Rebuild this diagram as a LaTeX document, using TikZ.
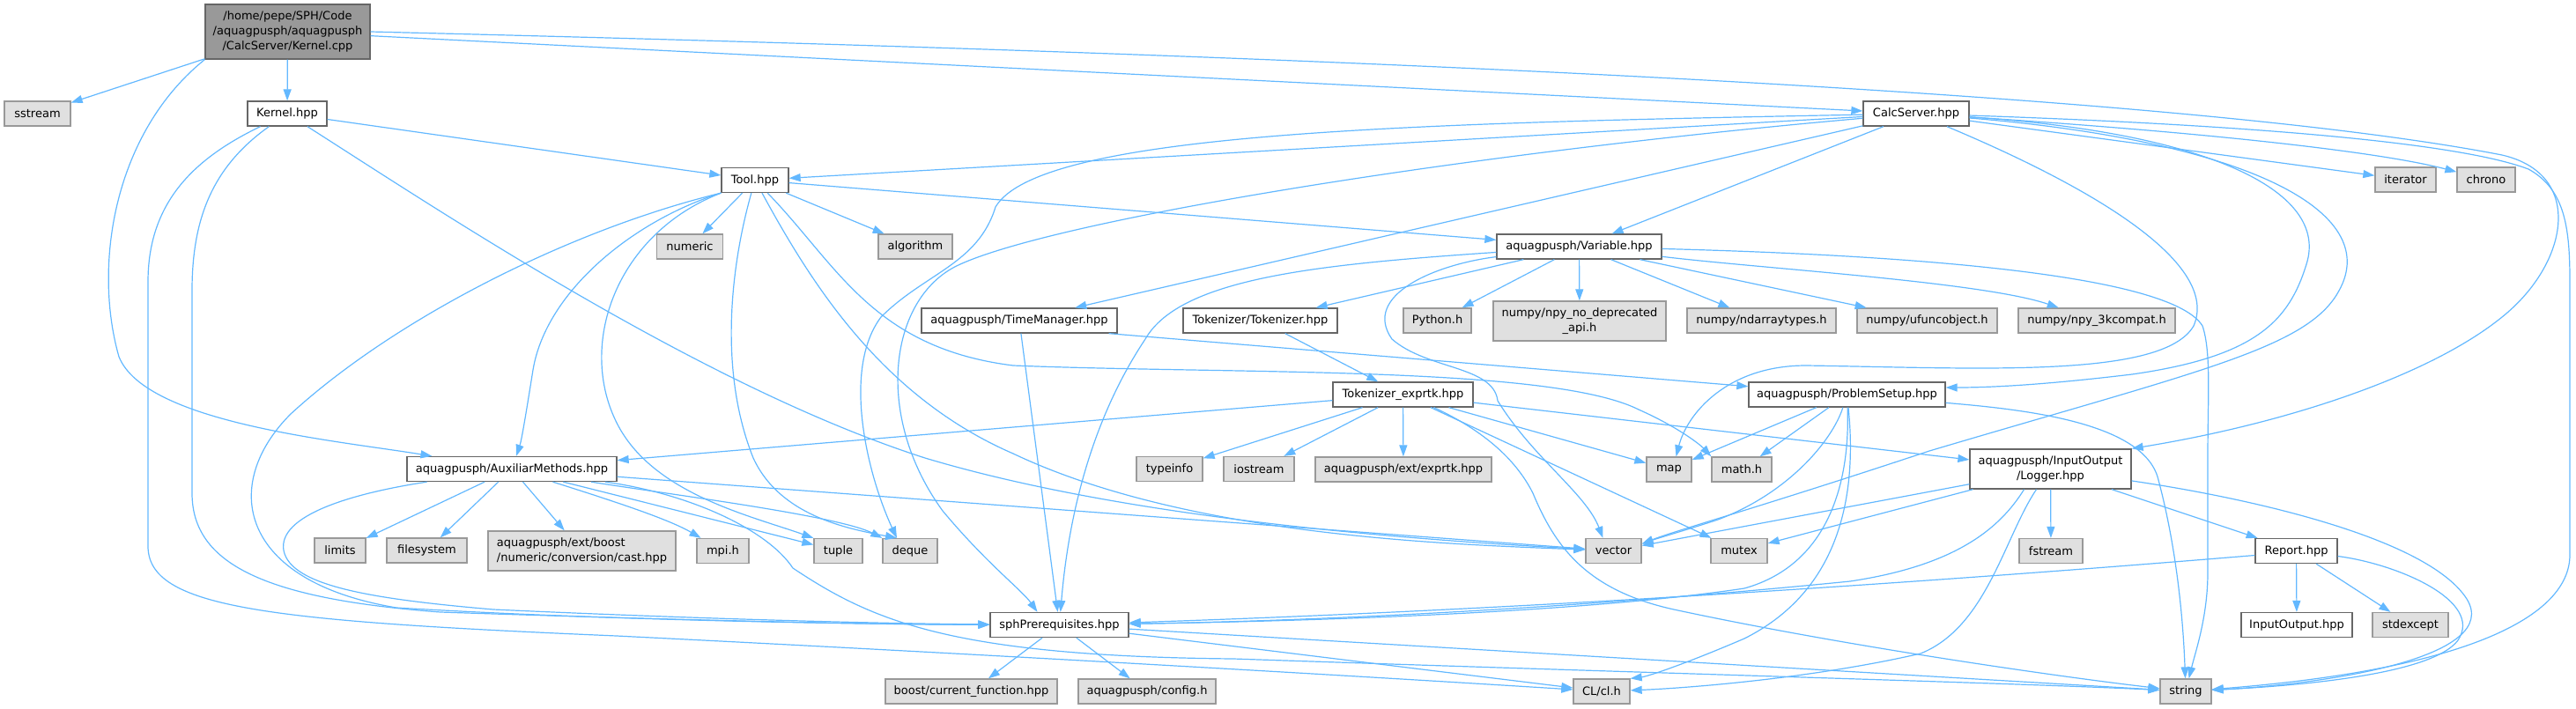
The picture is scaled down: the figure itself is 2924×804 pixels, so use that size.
\documentclass[tikz,border=0pt]{standalone}
\usepackage{fontspec}
\setmainfont{DejaVu Sans}
\usetikzlibrary{arrows.meta}
\definecolor{edgeblue}{HTML}{63B8FF}
\definecolor{bordw}{HTML}{666666}
\definecolor{bordg}{HTML}{999999}
\definecolor{extfill}{HTML}{E0E0E0}
\definecolor{rootfill}{HTML}{999999}
\begin{document}
\begin{tikzpicture}[x=1pt,y=-1pt,
  nd/.style={rectangle, inner sep=0pt, minimum height=28pt, line width=1.3pt,
    font=\fontsize{13pt}{17pt}\selectfont, align=center, text=black},
  hdr/.style={nd, draw=bordw, fill=white},
  ext/.style={nd, draw=bordg, fill=extfill},
  root/.style={nd, draw=bordw, fill=rootfill},
  conn/.style={draw=edgeblue, line width=1.2pt, -{Triangle[length=13pt,width=9pt]}},
]
\useasboundingbox (0,0) rectangle (2924,804);

% ---------- nodes ----------
\node[root, minimum width=187pt, minimum height=62pt] (kcpp) at (326.5,36) {/home/pepe/SPH/Code\\/aquagpusph/aquagpusph\\/CalcServer/Kernel.cpp};
\node[ext, minimum width=75pt] (sstream) at (42.5,129) {sstream};
\node[hdr, minimum width=90pt] (khpp) at (326,129) {Kernel.hpp};
\node[hdr, minimum width=76pt] (tool) at (857,204.5) {Tool.hpp};
\node[hdr, minimum width=120pt] (calc) at (2175,129) {CalcServer.hpp};
\node[ext, minimum width=75pt] (numeric) at (783,280) {numeric};
\node[ext, minimum width=84pt] (algorithm) at (1039,280) {algorithm};
\node[hdr, minimum width=187pt] (variable) at (1792.5,280) {aquagpusph/Variable.hpp};
\node[ext, minimum width=69pt] (iterator) at (2730.5,204) {iterator};
\node[ext, minimum width=66pt] (chrono) at (2822,204) {chrono};
\node[hdr, minimum width=222pt] (timemgr) at (1157,364) {aquagpusph/TimeManager.hpp};
\node[hdr, minimum width=175pt] (tokenizer) at (1430.5,364) {Tokenizer/Tokenizer.hpp};
\node[ext, minimum width=77pt] (python) at (1631.5,364) {Python.h};
\node[ext, minimum width=196pt, minimum height=45pt] (npydep) at (1793,364.5) {numpy/npy\_no\_deprecated\\\_api.h};
\node[ext, minimum width=169pt] (ndarray) at (1999.5,364) {numpy/ndarraytypes.h};
\node[ext, minimum width=159pt] (ufunc) at (2187.5,364) {numpy/ufuncobject.h};
\node[ext, minimum width=178pt] (npy3k) at (2380,364) {numpy/npy\_3kcompat.h};
\node[hdr, minimum width=159pt] (tokexp) at (1592.5,448) {Tokenizer\_exprtk.hpp};
\node[hdr, minimum width=223pt] (problem) at (2096.5,448) {aquagpusph/ProblemSetup.hpp};
\node[ext, minimum width=75pt] (typeinfo) at (1327.5,532.5) {typeinfo};
\node[ext, minimum width=80pt] (iostream) at (1429,532.5) {iostream};
\node[ext, minimum width=200pt] (exprtk) at (1593,533) {aquagpusph/ext/exprtk.hpp};
\node[ext, minimum width=51pt] (map) at (1894.5,533) {map};
\node[ext, minimum width=68pt] (mathh) at (1977,533) {math.h};
\node[hdr, minimum width=183pt, minimum height=45pt] (logger) at (2327.5,532.5) {aquagpusph/InputOutput\\/Logger.hpp};
\node[hdr, minimum width=238pt] (aux) at (581,532.5) {aquagpusph/AuxiliarMethods.hpp};
\node[ext, minimum width=58pt] (limits) at (386,625) {limits};
\node[ext, minimum width=91pt] (filesystem) at (484.5,625) {filesystem};
\node[ext, minimum width=213pt, minimum height=45pt, align=left] (boostcast) at (660.5,625.5) {aquagpusph/ext/boost\\/numeric/conversion/cast.hpp};
\node[ext, minimum width=59pt] (mpi) at (820.5,625.5) {mpi.h};
\node[ext, minimum width=55pt] (tuple) at (951.5,625.5) {tuple};
\node[ext, minimum width=62pt] (deque) at (1033,625.5) {deque};
\node[ext, minimum width=63pt] (vector) at (1831.5,625.5) {vector};
\node[ext, minimum width=64pt] (mutex) at (1974,625.5) {mutex};
\node[ext, minimum width=72pt] (fstream) at (2328,625.5) {fstream};
\node[hdr, minimum width=93pt] (report) at (2606.5,625.5) {Report.hpp};
\node[hdr, minimum width=157pt] (sph) at (1202.5,709.5) {sphPrerequisites.hpp};
\node[hdr, minimum width=126pt] (inout) at (2607,709.5) {InputOutput.hpp};
\node[ext, minimum width=86pt] (stdexcept) at (2736,709.5) {stdexcept};
\node[ext, minimum width=195pt] (boostcf) at (1102.5,785) {boost/current\_function.hpp};
\node[ext, minimum width=156pt] (config) at (1302,785) {aquagpusph/config.h};
\node[ext, minimum width=64pt] (cl) at (1818,785) {CL/cl.h};
\node[ext, minimum width=58pt] (string) at (2481,785) {string};

% ---------- Kernel.cpp ----------
\draw[conn] (kcpp) -- (sstream);
\draw[conn] (kcpp) -- (khpp);
\draw[conn] (kcpp.south west) .. controls (130,150) and (105,300) .. (135,405) .. controls (165,480) and (380,500) .. (aux);
\draw[conn] (kcpp) -- (calc);
\draw[conn] (kcpp.east) .. controls (1400,60) and (2450,100) .. (2840,176) .. controls (2935,198) and (2915,300) .. (2840,360) .. controls (2760,425) and (2600,480) .. (logger.north east);

% ---------- Kernel.hpp ----------
\draw[conn] (khpp) -- (tool);
\draw[conn] (khpp) .. controls (500,240) and (800,440) .. (1050,520) .. controls (1300,595) and (1650,615) .. (vector);
\draw[conn] (khpp) .. controls (240,190) and (218,250) .. (218,330) -- (218,560) .. controls (218,640) and (300,680) .. (500,695) .. controls (800,705) and (1000,709) .. (sph);
\draw[conn] (khpp) .. controls (220,180) and (168,230) .. (168,320) -- (168,620) .. controls (168,690) and (300,705) .. (700,722) .. controls (1100,742) and (1500,765) .. (cl);

% ---------- Tool.hpp ----------
\draw[conn] (tool) -- (numeric);
\draw[conn] (tool) -- (algorithm);
\draw[conn] (tool) -- (variable);
\draw[conn] (tool.south west) .. controls (720,250) and (620,330) .. (605,420) .. controls (597,470) and (592,500) .. (aux);
\draw[conn] (tool.south west) .. controls (650,260) and (450,360) .. (330,470) .. controls (250,550) and (270,660) .. (450,690) .. controls (700,705) and (1000,709) .. (sph);
\draw[conn] (tool.south west) .. controls (700,265) and (655,390) .. (700,480) .. controls (740,560) and (850,585) .. (tuple.north west);
\draw[conn] (tool) .. controls (830,300) and (815,420) .. (855,520) .. controls (885,585) and (960,600) .. ([xshift=-15pt]deque.north);
\draw[conn] (tool) .. controls (920,320) and (1000,450) .. (1150,515) .. controls (1350,610) and (1650,618) .. (vector);
\draw[conn] (tool) .. controls (950,300) and (990,395) .. (1150,415) .. controls (1400,425) and (1760,415) .. (1860,465) .. controls (1905,485) and (1930,505) .. (mathh.north west);

% ---------- CalcServer.hpp ----------
\draw[conn] (calc) -- (tool);
\draw[conn] (calc) .. controls (1600,140) and (1180,150) .. (1130,235) .. controls (1110,300) and (1050,310) .. (1000,360) .. controls (955,420) and (985,540) .. ([xshift=-15pt]deque.north);
\draw[conn] (calc) .. controls (1650,175) and (1200,250) .. (1090,300) .. controls (1010,335) and (990,470) .. (1070,580) .. controls (1120,640) and (1160,670) .. ([xshift=-25pt]sph.north);
\draw[conn] (calc) -- (timemgr);
\draw[conn] (calc) -- (variable);
\draw[conn] (calc) .. controls (2380,215) and (2520,300) .. (2490,370) .. controls (2455,430) and (2250,418) .. (2050,415) .. controls (1960,415) and (1915,470) .. ([xshift=8pt]map.north);
\draw[conn] (calc) .. controls (2500,150) and (2645,215) .. (2618,300) .. controls (2598,365) and (2560,405) .. (2420,425) .. controls (2320,437) and (2260,440) .. ([yshift=8pt]problem.east);
\draw[conn] (calc) .. controls (2550,160) and (2705,240) .. (2655,330) .. controls (2620,395) and (2500,420) .. (2190,512) .. controls (2000,575) and (1900,603) .. ([yshift=8pt]vector.east);
\draw[conn] (calc) -- (iterator);
\draw[conn] (calc) .. controls (2500,150) and (2700,172) .. (chrono);
\draw[conn] (calc) .. controls (2500,140) and (2780,158) .. (2870,192) .. controls (2912,215) and (2917,260) .. (2917,320) -- (2917,630) .. controls (2917,700) and (2800,760) .. (string);

% ---------- Variable.hpp ----------
\draw[conn] (variable) .. controls (1500,300) and (1340,315) .. (1300,385) .. controls (1250,460) and (1215,560) .. (sph);
\draw[conn] (variable) -- (tokenizer);
\draw[conn] (variable) .. controls (1630,300) and (1545,335) .. (1580,385) .. controls (1620,420) and (1695,415) .. (1700,455) .. controls (1740,520) and (1800,560) .. ([xshift=-12pt]vector.north);
\draw[conn] (variable) -- (python);
\draw[conn] (variable) -- (npydep);
\draw[conn] (variable) -- (ndarray);
\draw[conn] (variable) -- (ufunc);
\draw[conn] (variable) .. controls (2000,305) and (2250,320) .. (npy3k);
\draw[conn] (variable) .. controls (2100,288) and (2460,305) .. (2500,370) .. controls (2510,400) and (2506,450) .. (2506,520) -- (2506,650) .. controls (2506,700) and (2492,740) .. (string);

% ---------- Tokenizer / TimeManager ----------
\draw[conn] (tokenizer) -- (tokexp);
\draw[conn] (timemgr) -- (sph);
\draw[conn] ([xshift=-10pt]timemgr.south east) -- (problem);

% ---------- Tokenizer_exprtk.hpp ----------
\draw[conn] (tokexp) -- (aux);
\draw[conn] (tokexp) -- (typeinfo);
\draw[conn] (tokexp) -- (iostream);
\draw[conn] (tokexp) -- (exprtk);
\draw[conn] (tokexp) -- (map);
\draw[conn] (tokexp) -- (mutex);
\draw[conn] ([xshift=35pt]tokexp.south) .. controls (1665,480) and (1715,510) .. (1740,560) .. controls (1765,620) and (1800,670) .. (1900,692) .. controls (2100,735) and (2350,770) .. (string);
\draw[conn] (tokexp) -- (logger);

% ---------- ProblemSetup.hpp ----------
\draw[conn] (problem) -- (map);
\draw[conn] (problem) -- (mathh);
\draw[conn] (problem) .. controls (2080,500) and (2030,560) .. (1950,590) .. controls (1910,603) and (1885,610) .. ([yshift=8pt]vector.east);
\draw[conn] (problem) .. controls (2100,540) and (2080,640) .. (1980,668) .. controls (1800,695) and (1500,705) .. (sph);
\draw[conn] (problem) .. controls (2108,560) and (2090,670) .. (1980,725) .. controls (1910,755) and (1870,768) .. (cl.north east);
\draw[conn] (problem) .. controls (2300,465) and (2435,480) .. (2450,545) .. controls (2470,620) and (2478,700) .. (string);

% ---------- Logger.hpp ----------
\draw[conn] (logger) -- (vector);
\draw[conn] (logger) -- (mutex);
\draw[conn] ([xshift=-30pt]logger.south) .. controls (2270,600) and (2220,642) .. (2100,660) .. controls (1800,690) and (1500,705) .. (sph);
\draw[conn] ([xshift=-16pt]logger.south) .. controls (2275,610) and (2255,712) .. (2180,742) .. controls (2050,772) and (1900,782) .. (cl);
\draw[conn] (logger) -- (fstream);
\draw[conn] (logger) -- (report);
\draw[conn] (logger) .. controls (2550,565) and (2755,610) .. (2800,680) .. controls (2840,745) and (2650,776) .. (string);

% ---------- Report.hpp ----------
\draw[conn] ([yshift=-5pt]report.west) .. controls (2300,652) and (1800,690) .. (sph);
\draw[conn] (report) -- (inout);
\draw[conn] (report) -- (stdexcept);
\draw[conn] (report) .. controls (2720,640) and (2820,682) .. (2790,727) .. controls (2760,767) and (2600,779) .. (string);

% ---------- AuxiliarMethods.hpp ----------
\draw[conn] (aux) .. controls (400,560) and (315,585) .. (322,625) .. controls (330,665) and (420,680) .. (560,692) .. controls (800,703) and (1000,708) .. (sph);
\draw[conn] (aux) -- (limits);
\draw[conn] (aux) -- (filesystem);
\draw[conn] (aux) -- (boostcast);
\draw[conn] (aux) .. controls (700,570) and (760,590) .. (mpi);
\draw[conn] (aux) -- (tuple);
\draw[conn] (aux) .. controls (750,560) and (950,585) .. (deque.north west);
\draw[conn] (aux) -- (vector);
\draw[conn] (aux) .. controls (780,560) and (870,600) .. (900,645) .. controls (990,705) and (1080,745) .. (1400,748) .. controls (1900,765) and (2300,776) .. (string);

% ---------- sphPrerequisites.hpp ----------
\draw[conn] (sph) -- (boostcf);
\draw[conn] (sph) -- (config);
\draw[conn] (sph) -- (string);
\draw[conn] (sph) -- (cl);
\end{tikzpicture}
\end{document}
